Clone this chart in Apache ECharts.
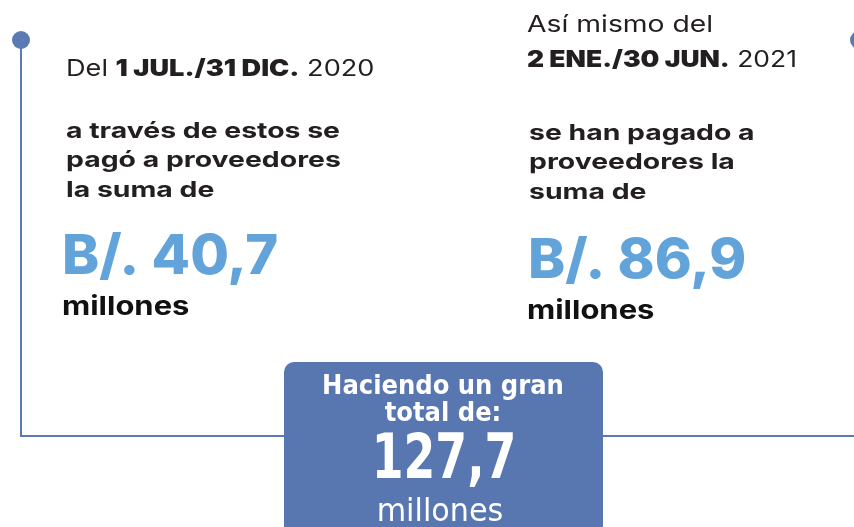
<!DOCTYPE html>
<html>
<head>
<meta charset="utf-8">
<script src="https://cdn.jsdelivr.net/npm/echarts@6/dist/echarts.min.js"></script>
<style>
  html, body { margin: 0; padding: 0; background: #fff; }
  #main { width: 854px; height: 527px; }
</style>
</head>
<body>
<div id="main"></div>
<script>
// datos del periodo
var introLines = ['Del ', 'Así mismo del'];
var periods = ['1 JUL./31 DIC.', '2 ENE./30 JUN.'];
var years = ['2020', '2021'];
var descLines = [
  ['a través de estos se', 'pagó a proveedores', 'la suma de'],
  ['se han pagado a', 'proveedores la', 'suma de']
];
var amounts = [40.7, 86.9];
var unit = 'millones';
var totalLabel = ['Haciendo un gran', 'total de:'];
var totalValue = 127.7;

var LINE = '#5b7ab3';
var BLUE = '#62a3da';
var DARK = '#231f20';
var FONT = 'Inter, "Open Sans", sans-serif';
var NARROW = '"Liberation Sans Narrow", "DejaVu Sans Condensed", "Open Sans", sans-serif';

function fmt(v) {
  return v.toFixed(1).replace('.', ',');
}

var myChart = echarts.init(document.getElementById('main'));

var g = [];
// linea de tiempo
g.push({ type: 'line', shape: { x1: 21, y1: 40, x2: 21, y2: 436 }, style: { stroke: LINE, lineWidth: 2 } });
g.push({ type: 'line', shape: { x1: 20, y1: 436, x2: 854, y2: 436 }, style: { stroke: LINE, lineWidth: 2 } });
g.push({ type: 'circle', shape: { cx: 21, cy: 40, r: 9 }, style: { fill: LINE } });
g.push({ type: 'circle', shape: { cx: 859, cy: 40, r: 9 }, style: { fill: LINE } });

var rich = {
  r: { font: '400 23px ' + FONT, fill: DARK },
  b: { font: '900 23px ' + FONT, fill: DARK }
};

// columna izquierda
g.push({
  type: 'text', x: 66, y: 69, scaleX: 1.18,
  style: { text: '{r|' + introLines[0] + '}{b|' + periods[0] + '}{r| ' + years[0] + '}', rich: rich, verticalAlign: 'middle' }
});
// columna derecha
g.push({
  type: 'text', x: 527, y: 25, scaleX: 1.23,
  style: { text: introLines[1], font: '400 23px ' + FONT, fill: DARK, verticalAlign: 'middle' }
});
g.push({
  type: 'text', x: 527, y: 60, scaleX: 1.15,
  style: { text: '{b|' + periods[1] + '}{r| ' + years[1] + '}', rich: rich, verticalAlign: 'middle' }
});

var xs = [66, 529];
var descY = [131, 133];
var amtX = [62, 528];
var amtY = [257, 261];
var milY = [307, 311];
var milX = [62, 527];
for (var i = 0; i < 2; i++) {
  for (var k = 0; k < descLines[i].length; k++) {
    g.push({
      type: 'text', x: xs[i], y: descY[i] + k * 29.5, scaleX: 1.29,
      style: { text: descLines[i][k], font: '700 22px ' + FONT, fill: DARK, verticalAlign: 'middle' }
    });
  }
  g.push({
    type: 'text', x: amtX[i], y: amtY[i], scaleX: 1.02,
    style: { text: 'B/. ' + fmt(amounts[i]), font: '800 55px ' + FONT, fill: BLUE, verticalAlign: 'middle' }
  });
  g.push({
    type: 'text', x: milX[i], y: milY[i], scaleX: 1.19,
    style: { text: unit, font: '700 26px ' + FONT, fill: '#111', verticalAlign: 'middle' }
  });
}

// caja del total
g.push({ type: 'rect', shape: { x: 284, y: 362, width: 319, height: 180, r: 10 }, style: { fill: '#5877b0' } });
g.push({
  type: 'text', x: 443, y: 387,
  style: { text: totalLabel[0], font: '700 27px ' + NARROW, fill: '#fff', align: 'center', verticalAlign: 'middle' }
});
g.push({
  type: 'text', x: 443, y: 414,
  style: { text: totalLabel[1], font: '700 27px ' + NARROW, fill: '#fff', align: 'center', verticalAlign: 'middle' }
});
g.push({
  type: 'text', x: 444, y: 462, scaleX: 0.82,
  style: { text: fmt(totalValue), font: '700 62px ' + NARROW, fill: '#fff', align: 'center', verticalAlign: 'middle' }
});
g.push({
  type: 'text', x: 440, y: 513, scaleX: 1.05,
  style: { text: unit, font: '400 32px ' + NARROW, fill: '#fff', align: 'center', verticalAlign: 'middle' }
});

myChart.setOption({
  backgroundColor: '#fff',
  animation: false,
  graphic: g
});
</script>
</body>
</html>
